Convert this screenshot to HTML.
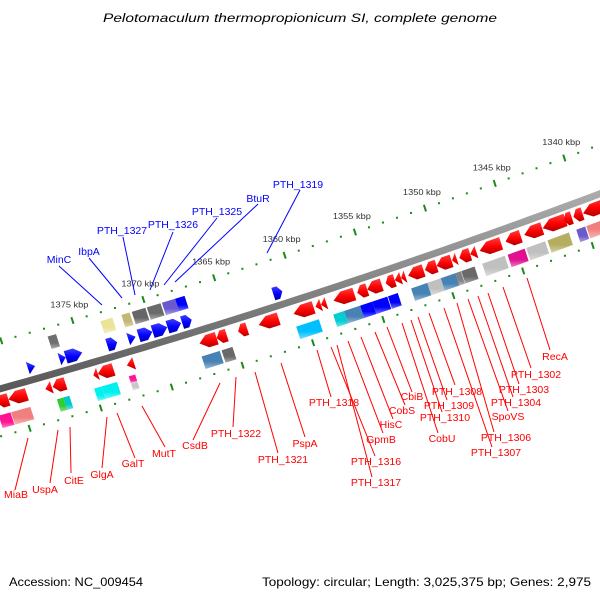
<!DOCTYPE html>
<html><head><meta charset="utf-8"><title>Genome map</title>
<style>
html,body{margin:0;padding:0;background:#fff;}
svg{display:block;font-family:"Liberation Sans",sans-serif;}
</style></head>
<body>
<svg id="chart" width="600" height="600" viewBox="0 0 600 600" xmlns="http://www.w3.org/2000/svg">
<defs>
<linearGradient id="gRed" x1="0" y1="0" x2="0" y2="1"><stop offset="0" stop-color="#ff4040"/><stop offset="0.55" stop-color="#ff0000"/><stop offset="1" stop-color="#b00000"/></linearGradient>
<linearGradient id="gBlue" x1="0" y1="0" x2="0" y2="1"><stop offset="0" stop-color="#4040ff"/><stop offset="0.55" stop-color="#0000ff"/><stop offset="1" stop-color="#0000a8"/></linearGradient>
<linearGradient id="gShade" x1="0" y1="0" x2="0" y2="1"><stop offset="0" stop-color="#fff" stop-opacity="0"/><stop offset="0.6" stop-color="#fff" stop-opacity="0"/><stop offset="1" stop-color="#fff" stop-opacity="0.45"/></linearGradient>
<linearGradient id="gBack" x1="0" y1="0" x2="0" y2="1"><stop offset="0" stop-color="#b0b0b0"/><stop offset="1" stop-color="#555"/></linearGradient>
</defs>
<text x="300" y="22" text-anchor="middle" font-size="12" font-style="italic" fill="#000" textLength="394" lengthAdjust="spacingAndGlyphs">Pelotomaculum thermopropionicum SI, complete genome</text>
<text x="9" y="586" font-size="12" fill="#000" textLength="134" lengthAdjust="spacingAndGlyphs">Accession: NC_009454</text>
<text x="262" y="586" font-size="12" fill="#000" textLength="329" lengthAdjust="spacingAndGlyphs">Topology: circular; Length: 3,025,375 bp; Genes: 2,975</text>
<g id="layer"></g>
</svg>
<script>
// ---- data (kbp) ----
const tickStart = 1338;
const tickEnd = 1382;
const tickLabels = [1340,1345,1350,1355,1360,1365,1370,1375];
// forward genes (blue): [startKbp, endKbp]
const fwdGeneStart = [1378.86,1376.64,1376.2,1373.28,1371.8,1371.07,1370.08,1369.03,1368.0,1361.54];
const fwdGeneEnd   = [1378.35,1376.2,1375.04,1372.58,1371.28,1370.1,1369.05,1368.07,1367.32,1360.9];
// reverse genes (red)
const revGeneStart = [1381.6,1380.76,1378.17,1377.66,1374.8,1374.48,1372.44,1367.31,1366.1,1364.58,1363.12,1360.65,1359.09,1358.7,1357.81,1356.12,1355.41,1354.09,1353.45,1353.0,1352.49,1351.29,1350.46,1349.35,1348.83,1348.06,1347.38,1345.52,1344.18,1342.85,1341.34,1340.64,1339.95];
const revGeneEnd   = [1380.76,1379.47,1377.72,1376.76,1374.48,1373.38,1371.93,1366.1,1365.39,1363.94,1361.71,1359.23,1358.7,1358.32,1356.33,1355.41,1354.38,1353.45,1353.0,1352.68,1351.39,1350.46,1349.39,1349.02,1348.06,1347.61,1345.84,1344.43,1342.89,1341.21,1340.76,1339.99,1338.0];
// COG boxes forward row
const fwdBoxStart = [1376.93,1373.22,1371.74,1371.01,1369.95,1368.88,1367.95];
const fwdBoxEnd   = [1376.34,1372.38,1371.16,1370.05,1368.98,1367.95,1367.28];
const fwdBoxColor = ["#6e6e6e","#ece39a","#c2b874","#666666","#6a6a6a","#6a5acd","#0000ff"];
// COG boxes reverse row
const revBoxStart = [1381.73,1380.86,1377.65,1377.2,1375.03,1374.51,1367.45,1366.04,1360.75,1358.12,1357.35,1356.2,1355.34,1354.22,1352.57,1351.41,1350.45,1349.4,1348.98,1347.48,1345.66,1344.32,1342.8,1340.73,1340.01];
const revBoxEnd   = [1380.9,1379.51,1377.2,1376.77,1374.51,1373.42,1366.17,1365.27,1359.14,1357.35,1356.2,1355.34,1354.27,1353.52,1351.41,1350.45,1349.4,1349.01,1348.03,1345.87,1344.44,1342.97,1341.26,1340.09,1338.0];
const revBoxColor = ["#ff1493","#f08080","#32cd32","#00c8cc","#00f0f0","#00f0f0","#4682b4","#696969","#00bfff","#00ced1","#4682b4","#0000ff","#0000ff","#0000ff","#4682b4","#c0c0c0","#4682b4","#808080","#696969","#c0c0c0","#e0108f","#c0c0c0","#b5ad60","#6a5acd","#f08080"];
// small stacked boxes
const smallBoxStart = [1372.55,1372.55];
const smallBoxEnd = [1372.1,1372.1];
const smallBoxColor = ["#ff1493","#c8c8c8"];
// gene labels: text, x, y, line from (x1,y1) to (x2,y2)
const blueLabels = ["MinC","IbpA","PTH_1327","PTH_1326","PTH_1325","BtuR","PTH_1319"];
const blueLabelPos = [[59,263,59,266,102,305],[89,255,89,258,122,298],[122,234,123,237,135,295],[173,228,173,232,150,290],[217,215,217,218,164,285],[258,202,258,204,175,282],[298,188,300,190,267,253]];
const redLabels = ["MiaB","UspA","CitE","GlgA","GalT","MutT","CsdB","PTH_1322","PTH_1321","PspA","PTH_1318","PTH_1316","PTH_1317","GpmB","HisC","CobS","CbiB","CobU","PTH_1310","PTH_1309","PTH_1308","PTH_1307","PTH_1306","SpoVS","PTH_1304","PTH_1303","PTH_1302","RecA"];
const redLabelPos = [[16,498,28,438,15,490],[45,493,58,430,50,483],[74,484,70,427,71,473],[102,478,107,417,102,468],[133,467,117,413,135,458],[164,457,142,406,165,447],[195,449,220,383,193,440],[236,437,236,377,233,427],[283,463,255,372,278,453],[305,447,281,363,305,437],[334,406,317,350,331,397],[376,465,331,347,375,456],[376,486,337,345,372,477],[381,443,348,341,383,433],[391,428,361,337,393,419],[402,414,375,332,405,405],[412,400,387,327,412,392],[442,442,402,323,438,433],[445,421,411,320,442,412],[449,409,418,317,447,400],[457,395,429,313,455,385],[496,456,444,308,492,447],[506,441,457,303,494,432],[508,420,468,299,508,411],[516,406,478,296,513,397],[524,393,488,293,519,384],[536,378,503,287,531,368],[555,360,527,278,550,350]];

// ---- axis functions ----
const C = Math.cos(18*Math.PI/180), S = Math.sin(18*Math.PI/180);
function tOf(k){ return (1360-k)*14.8 - 2; }
function pt(t,u){ const v = u + 2.5 - 7e-5*t*t; return [300 + t*C + v*S, 296 - t*S + v*C]; }
function poly(pairs){ return pairs.map(p=>{const q=pt(p[0],p[1]);return q[0].toFixed(2)+","+q[1].toFixed(2);}).join(" "); }
const NS="http://www.w3.org/2000/svg";
const layer=document.getElementById("layer");
function mk(tag,attrs,parent){const e=document.createElementNS(NS,tag);for(const a in attrs)e.setAttribute(a,attrs[a]);(parent||layer).appendChild(e);return e;}

// backbone
(function(){
  const top=[],bot=[];
  for(let t=-340;t<=340;t+=10){top.push([t,-3.5]);bot.unshift([t,3.5]);}
  const e=mk("polygon",{points:poly(top.concat(bot)),fill:"url(#gBack)"});
  
  
})();

// ticks
for(let k=tickStart;k<=tickEnd;k++){
  const t=tOf(k);
  [-46,46].forEach(function(u){
    if(k%5===0){
      const a=pt(t,u-3.5),b=pt(t,u+3.5);
      const e=mk("line",{x1:a[0],y1:a[1],x2:b[0],y2:b[1],stroke:"#1a8a1a","stroke-width":2});
      
      
    } else {
      const a=pt(t,u);
      const e=mk("rect",{x:a[0]-1,y:a[1]-1,width:2,height:2,fill:"#1a8a1a"});
      
      
    }
  });
}
tickLabels.forEach(function(k){
  const a=pt(tOf(k),-46);
  const e=mk("text",{x:a[0]-3,y:a[1]-13,"text-anchor":"middle","font-size":"8.5",fill:"#333",textLength:"38",lengthAdjust:"spacingAndGlyphs"});
  e.textContent=k+" kbp";
  
  
});

// boxes
function box(k1,k2,u,half,color,name){
  const t1=tOf(k1),t2=tOf(k2);
  const pts=[[t1,u-half],[t2,u-half],[t2,u+half],[t1,u+half]];
  const e=mk("polygon",{points:poly(pts),fill:color});
  
  
  mk("polygon",{points:poly(pts),fill:"url(#gShade)"});
}
fwdBoxStart.forEach((s,i)=>box(s,fwdBoxEnd[i],-31,6.5,fwdBoxColor[i],'cog-box-forward'));
revBoxStart.forEach((s,i)=>box(s,revBoxEnd[i],32,6.5,revBoxColor[i],'cog-box-reverse'));
smallBoxStart.forEach((s,i)=>box(s,smallBoxEnd[i],i===0?27:34.5,3.5,smallBoxColor[i],'cog-box-small'));

// arrows (pentagon shape)
function arrow(k1,k2,u,dir,fill,name){
  let t1=tOf(k1),t2=tOf(k2); if(t1>t2){const x=t1;t1=t2;t2=x;}
  const len=t2-t1, h=6.5, hl=Math.min(9,len*0.45);
  let pts;
  if(dir>0){
    pts = len<8 ? [[t1,-h],[t2,0],[t1,h]] :
      [[t1,-h],[t2-hl,-h],[t2,0],[t2-hl,h],[t1,h]];
  } else {
    pts = len<8 ? [[t2,-h],[t1,0],[t2,h]] :
      [[t2,-h],[t1+hl,-h],[t1,0],[t1+hl,h],[t2,h]];
  }
  pts=pts.map(p=>[p[0],p[1]+u]);
  const e=mk("polygon",{points:poly(pts),fill:fill});
  
  
}
fwdGeneStart.forEach((s,i)=>arrow(s,fwdGeneEnd[i],-12.5,1,"url(#gBlue)",'forward-gene'));
revGeneStart.forEach((s,i)=>arrow(s,revGeneEnd[i],12.5,-1,"url(#gRed)",'reverse-gene'));

// labels
function labels(names,pos,color,nm){
  names.forEach(function(n,i){
    const p=pos[i];
    const l=mk("line",{x1:p[2],y1:p[3],x2:p[4],y2:p[5],stroke:color,"stroke-width":1});
    
    
    const e=mk("text",{x:p[0],y:p[1],"text-anchor":"middle","font-size":"10.5",fill:color});
    e.textContent=n;
    
    
  });
}
labels(blueLabels,blueLabelPos,"#0000ff","forward-gene");
labels(redLabels,redLabelPos,"#ff0000","reverse-gene");
</script>
</body></html>
